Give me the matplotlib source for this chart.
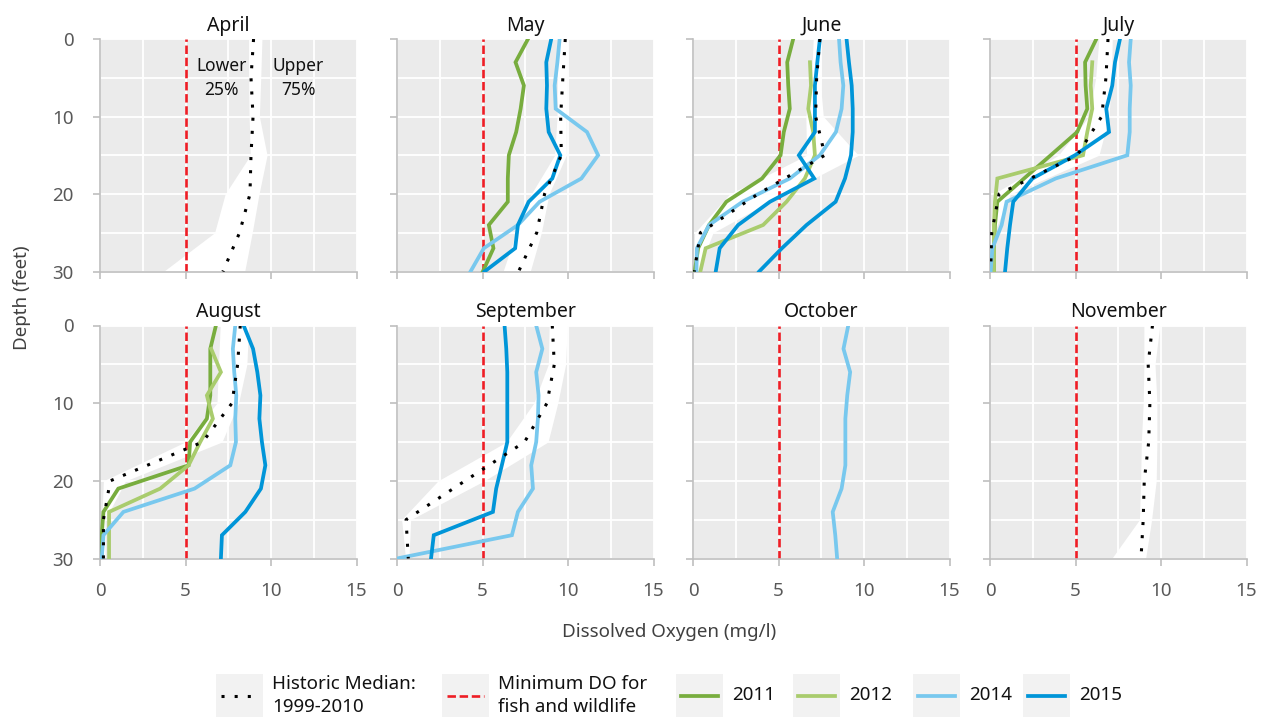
import numpy as np
import matplotlib
matplotlib.use("Agg")
import matplotlib.pyplot as plt
from matplotlib.lines import Line2D
from matplotlib.patches import Rectangle

plt.rcParams['font.family'] = ['Noto Sans', 'DejaVu Sans']

nan = np.nan

# ---------------------------------------------------------------- data
months = ["April", "May", "June", "July", "August", "September", "October", "November"]

# depth (feet) of the yearly profile readings
profile_depth = [0, 3, 6, 9, 12, 15, 18, 21, 24, 27, 30]
# depth (feet) of the historic 1999-2010 statistics
hist_depth = [0, 5, 10, 15, 20, 25, 30]

# historic median / 25th / 75th percentile of dissolved oxygen (mg/l)
apr_median = [8.98, 8.83, 8.95, 8.83, 8.77, 8.16, 7.19]
apr_lower = [8.69, 8.69, 8.72, 8.79, 7.32, 6.70, 3.71]
apr_upper = [9.47, 9.40, 9.32, 9.77, 9.30, 8.90, 8.46]

may_median = [9.84, 9.70, 9.57, 9.61, 8.63, 8.17, 7.11]
may_lower = [9.41, 9.38, 9.36, 9.22, 7.85, 6.97, 6.20]
may_upper = [10.00, 9.94, 9.90, 9.90, 8.89, 8.44, 7.79]

jun_median = [7.42, 7.23, 7.17, 7.71, 3.80, 0.43, 0.08]
jun_lower = [7.03, 6.93, 6.60, 6.64, 2.15, 0.10, 0.00]
jun_upper = [7.50, 7.42, 7.62, 9.67, 5.30, 1.17, 0.30]

jul_median = [6.90, 6.78, 6.53, 5.10, 0.53, 0.10, 0.04]
jul_lower = [6.37, 6.18, 5.79, 4.00, 0.20, 0.00, 0.00]
jul_upper = [7.15, 7.10, 6.96, 6.37, 1.20, 0.23, 0.14]

aug_median = [8.20, 8.05, 7.72, 6.00, 0.60, 0.20, 0.20]
aug_lower = [7.03, 6.93, 6.84, 4.98, 0.20, 0.10, 0.10]
aug_upper = [8.69, 8.59, 8.10, 7.13, 1.50, 0.30, 0.30]

sep_median = [9.08, 9.20, 8.77, 7.46, 3.98, 0.53, 0.66]
sep_lower = [8.90, 8.85, 8.00, 6.40, 2.40, 0.27, 0.50]
sep_upper = [9.96, 9.86, 9.40, 8.83, 5.10, 0.80, 0.70]

nov_median = [9.50, 9.25, 9.35, 9.28, 9.02, 8.96, 8.83]
nov_lower = [9.00, 9.00, 8.96, 8.85, 8.81, 8.74, 7.12]
nov_upper = [9.93, 9.65, 9.76, 9.76, 9.72, 9.45, 9.10]

# yearly dissolved oxygen profiles (mg/l)
may_2011 = [7.66, 6.93, 7.42, 7.23, 6.97, 6.54, 6.48, 6.48, 5.37, 5.64, 5.02]
may_2014 = [9.51, 9.38, 9.22, 9.28, 11.11, 11.76, 10.78, 8.34, 7.07, 5.08, 4.30]
may_2015 = [9.02, 8.73, 8.77, 8.73, 8.87, 9.55, 9.08, 7.70, 7.07, 6.91, 5.12]

jun_2011 = [5.86, 5.51, 5.57, 5.66, 5.31, 5.12, 4.04, 1.95, 0.94, 0.30, 0.10]
jun_2012 = [nan, 6.84, 6.90, 6.74, 7.03, 7.13, 6.54, 5.47, 4.10, 0.74, 0.43]
jun_2014 = [8.54, 8.63, 8.79, 8.69, 8.36, 7.42, 5.66, 2.90, 0.94, 0.23, 0.20]
jun_2015a = [7.42, 7.27, 7.13, 7.13, 7.13, 6.19, 7.09, 4.50, 2.64, 1.56, 1.33]
jun_2015b = [8.98, 9.12, 9.28, 9.34, 9.34, 9.24, 8.89, 8.34, 6.64, 5.20, 3.87]

jul_2011 = [6.22, 5.56, 5.59, 5.69, 5.10, 3.55, 1.99, 0.43, 0.29, 0.23, 0.23]
jul_2012 = [nan, 5.98, 5.89, 5.98, 5.69, 5.44, 0.43, 0.29, 0.23, 0.23, 0.23]
jul_2014 = [8.23, 8.13, 8.23, 8.17, 8.17, 8.03, 3.84, 0.97, 0.68, 0.14, 0.04]
jul_2015 = [7.60, 7.31, 7.15, 6.80, 6.96, 4.97, 2.48, 1.36, 1.17, 1.01, 0.88]

aug_2011 = [6.78, 6.45, 6.45, 6.45, 6.25, 5.27, 5.18, 1.07, 0.20, 0.10, 0.10]
aug_2012 = [nan, 6.50, 7.07, 6.25, 6.60, 5.86, 5.18, 3.52, 0.53, 0.53, 0.53]
aug_2014 = [7.91, 7.77, 7.85, 7.97, 7.91, 7.95, 7.62, 5.53, 1.37, 0.20, 0.10]
aug_2015 = [8.40, 8.95, 9.20, 9.38, 9.32, 9.47, 9.67, 9.41, 8.50, 7.13, 7.07]

sep_2014 = [8.14, 8.50, 8.14, 8.28, 8.24, 8.14, 7.85, 7.95, 7.07, 6.72, 0.00]
sep_2015 = [6.29, 6.39, 6.45, 6.45, 6.45, 6.45, 6.13, 5.80, 5.61, 2.15, 1.99]

oct_2014 = [9.08, 8.80, 9.19, 9.02, 8.91, 8.91, 8.91, 8.69, 8.17, 8.32, 8.43]

min_do = 5  # minimum DO for fish and wildlife (mg/l)

# ---------------------------------------------------------------- styles
C_2011 = "#78AD3E"
C_2012 = "#A9CC6D"
C_2014 = "#78C8EE"
C_2015 = "#0095D8"
C_RED = "#EE1D25"
C_BG = "#EBEBEB"
C_SPINE = "#BFBFBF"
C_TEXT = "#404040"

historic = {
    "April": (apr_median, apr_lower, apr_upper),
    "May": (may_median, may_lower, may_upper),
    "June": (jun_median, jun_lower, jun_upper),
    "July": (jul_median, jul_lower, jul_upper),
    "August": (aug_median, aug_lower, aug_upper),
    "September": (sep_median, sep_lower, sep_upper),
    "November": (nov_median, nov_lower, nov_upper),
}
yearly = {
    "May": [(may_2011, C_2011), (may_2014, C_2014), (may_2015, C_2015)],
    "June": [(jun_2011, C_2011), (jun_2012, C_2012), (jun_2014, C_2014),
             (jun_2015a, C_2015), (jun_2015b, C_2015)],
    "July": [(jul_2011, C_2011), (jul_2012, C_2012), (jul_2014, C_2014), (jul_2015, C_2015)],
    "August": [(aug_2011, C_2011), (aug_2012, C_2012), (aug_2014, C_2014), (aug_2015, C_2015)],
    "September": [(sep_2014, C_2014), (sep_2015, C_2015)],
    "October": [(oct_2014, C_2014)],
}

W, H = 1267, 721
fig = plt.figure(figsize=(W / 100, H / 100), dpi=100)


def fx(px):
    return px / W


def fy(py):
    return 1 - py / H


col_left = [100, 397, 693, 990]
row_top = [39, 325.5]
row_bot = [271.5, 558.5]
ax_w = 256.5

dotted = (0, (1, 3.3))
dashed = (0, (3.2, 1.4))

for i, month in enumerate(months):
    r, c = divmod(i, 4)
    left = col_left[c]
    ax = fig.add_axes([fx(left), fy(row_bot[r]), ax_w / W, (row_bot[r] - row_top[r]) / H])
    ax.set_facecolor(C_BG)
    ax.set_xlim(0, 15)
    ax.set_ylim(30, 0)
    ax.set_xticks([0, 5, 10, 15])
    ax.set_xticks(np.arange(0, 15.01, 2.5), minor=True)
    ax.set_yticks([0, 10, 20, 30])
    ax.set_yticks([5, 15, 25], minor=True)
    ax.set_axisbelow(True)
    ax.grid(which="both", color="white", lw=1.3)
    for s in ["top", "right"]:
        ax.spines[s].set_visible(False)
    for s in ["left", "bottom"]:
        ax.spines[s].set_color(C_SPINE)
        ax.spines[s].set_linewidth(1.2)
    ax.tick_params(which="major", length=5, width=1.2, color=C_SPINE,
                   labelsize=13.5, labelcolor="#595959")
    ax.tick_params(axis="y", pad=14)
    ax.tick_params(axis="x", pad=12)
    ax.tick_params(which="minor", length=0)
    if c != 0:
        ax.tick_params(axis="y", labelleft=False)
    if r == 0:
        ax.tick_params(axis="x", labelbottom=False)

    ax.set_title(month, fontsize=14, color="#111111", pad=6)

    if month in historic:
        med, lo, hi = historic[month]
        ax.fill_betweenx(hist_depth, lo, hi, color="white", lw=0, zorder=1)

    ax.axvline(min_do, color=C_RED, lw=1.9, ls=dashed, zorder=2)

    for vals, col in yearly.get(month, []):
        ax.plot(vals, profile_depth, color=col, lw=2.7, zorder=3,
                solid_joinstyle="miter")

    if month in historic:
        ax.plot(med, hist_depth, color="black", lw=2.2, ls=dotted, zorder=4)

    if month == "April":
        ax.text(7.1, 5.0, "Lower\n25%", ha="center", va="center", fontsize=12.5,
                color="#111111", linespacing=1.45)
        ax.text(11.6, 5.0, "Upper\n75%", ha="center", va="center", fontsize=12.5,
                color="#111111", linespacing=1.45)

fig.text(fx(22), fy(298), "Depth (feet)", rotation=90, ha="center", va="center",
         fontsize=13.5, color=C_TEXT)
fig.text(fx(669), fy(632), "Dissolved Oxygen (mg/l)", ha="center", va="center",
         fontsize=13.5, color=C_TEXT)

# legend: grey swatch boxes with handles, labels to the right
legend_items = [
    (216, "Historic Median:\n1999-2010", dict(color="black", lw=2.2, ls=dotted)),
    (442, "Minimum DO for\nfish and wildlife", dict(color=C_RED, lw=1.9, ls=dashed)),
    (676, "2011", dict(color=C_2011, lw=2.7)),
    (793, "2012", dict(color=C_2012, lw=2.7)),
    (913, "2014", dict(color=C_2014, lw=2.7)),
    (1023, "2015", dict(color=C_2015, lw=2.7)),
]
box_w, box_top, box_bot = 47, 674, 717
for x0, label, style in legend_items:
    fig.add_artist(Rectangle((fx(x0), fy(box_bot)), box_w / W, (box_bot - box_top) / H,
                             transform=fig.transFigure, facecolor="#F2F2F2",
                             edgecolor="none"))
    yc = fy(695.5)
    fig.add_artist(Line2D([fx(x0 + 5), fx(x0 + box_w - 5)], [yc, yc],
                          transform=fig.transFigure, **style))
    fig.text(fx(x0 + box_w + 9), yc, label, ha="left", va="center", fontsize=13.5,
             color="#111111", linespacing=1.35)

fig.savefig("out.png", dpi=100)
